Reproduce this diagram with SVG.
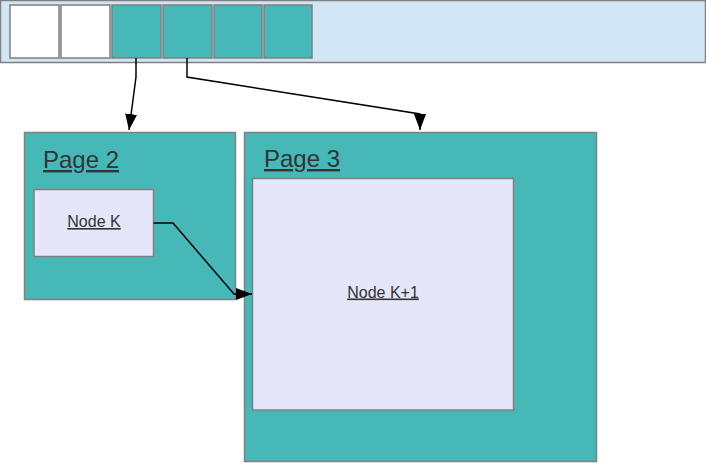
<svg xmlns="http://www.w3.org/2000/svg" width="706" height="463" viewBox="0 0 706 463">
<defs>
<style>
.bar{fill:#d0e6f4;stroke:#808080;stroke-width:1.5}
.cell{stroke:#808080;stroke-width:1.5}
.empty{fill:#ffffff}
.full{fill:#46b8b8}
.page{fill:#46b8b8;stroke:#808080;stroke-width:1.5}
.node{fill:#e6e6fa;stroke:#808080;stroke-width:1.5}
.pt{font-family:"Liberation Sans",Arial,sans-serif;font-size:24px;fill:#333333;text-decoration:underline}
.nt{font-family:"Liberation Sans",Arial,sans-serif;font-size:16px;fill:#333333;text-decoration:underline;text-anchor:middle}
.edge{fill:none;stroke:#000000;stroke-width:1.5}
</style>
<marker id="arr" viewBox="0 0 16 12" refX="16" refY="6" markerWidth="16" markerHeight="12" markerUnits="userSpaceOnUse" orient="auto">
<path d="M0,0 L16,6 L0,12 Z" fill="#000000"/>
</marker>
</defs>
<g id="table">
<rect class="bar" x="0.5" y="0.5" width="705" height="62"/>
<rect class="cell empty" x="10" y="5" width="49" height="53"/>
<rect class="cell empty" x="61" y="5" width="49" height="53"/>
<rect class="cell full" x="112" y="5" width="49" height="53"/>
<rect class="cell full" x="163" y="5" width="49" height="53"/>
<rect class="cell full" x="214" y="5" width="48" height="53"/>
<rect class="cell full" x="264" y="5" width="48" height="53"/>
</g>
<g id="page2">
<rect class="page" x="24.5" y="132.5" width="211" height="167"/>
<text class="pt" x="43" y="168">Page 2</text>
</g>
<g id="page3">
<rect class="page" x="244.5" y="132.5" width="352" height="329"/>
<text class="pt" x="264" y="167">Page 3</text>
</g>
<g id="nodeK">
<rect class="node" x="34" y="189.5" width="119.5" height="67"/>
<text class="nt" x="94" y="227">Node K</text>
</g>
<g id="nodeK1">
<rect class="node" x="252.5" y="178.5" width="261" height="231.5"/>
<text class="nt" x="383" y="297.5">Node K+1</text>
</g>
<g id="connectors">
<path class="edge" d="M136,58 L136,77 L129,130" marker-end="url(#arr)"/>
<path class="edge" d="M187,58 L187,77 L420,114 L420,130" marker-end="url(#arr)"/>
<path class="edge" d="M153.5,223 L173,223 L234,294 L252,294" marker-end="url(#arr)"/>
</g>
</svg>
